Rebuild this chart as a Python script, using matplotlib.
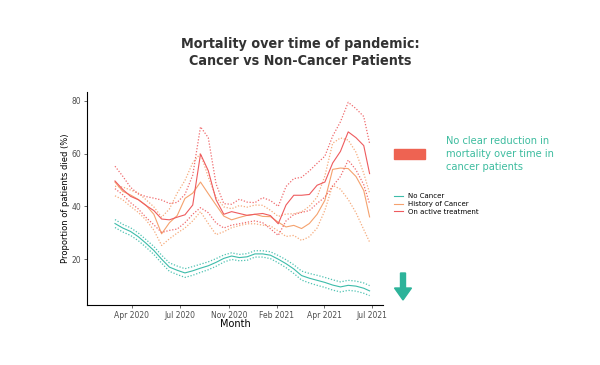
import matplotlib
matplotlib.use("Agg")
import matplotlib.pyplot as plt
from matplotlib.patches import FancyArrow, Rectangle
from matplotlib.lines import Line2D

# weeks since start of series (2-week steps)
weeks = [0, 2, 4, 6, 8, 10, 12, 14, 16, 18, 20, 22, 24, 26, 28, 30, 32,
         34, 36, 38, 40, 42, 44, 46, 48, 50, 52, 54, 56, 58, 60, 62, 64, 65.5]

no_cancer = [33.5, 31.8, 30.5, 28.5, 26.0, 23.3, 20.0, 17.0, 15.8, 14.8, 15.6, 16.6,
             17.5, 18.8, 20.3, 21.2, 20.6, 20.9, 22.0, 22.0, 21.5, 20.0, 18.3, 16.3,
             13.8, 12.8, 12.0, 11.2, 10.2, 9.5, 10.1, 9.8, 9.0, 8.0]
no_cancer_hi = [35.0, 33.2, 31.9, 29.9, 27.4, 24.8, 21.5, 18.6, 17.4, 16.4, 17.2, 18.1,
                19.0, 20.2, 21.6, 22.4, 21.8, 22.1, 23.2, 23.2, 22.8, 21.4, 19.8, 17.9,
                15.5, 14.6, 13.9, 13.1, 12.2, 11.4, 12.0, 11.7, 11.0, 10.0]
no_cancer_lo = [32.0, 30.3, 29.0, 27.0, 24.5, 21.8, 18.5, 15.4, 14.2, 13.1, 13.9, 15.0,
                16.0, 17.3, 18.9, 19.9, 19.4, 19.6, 20.8, 20.8, 20.2, 18.6, 16.8, 14.6,
                12.1, 11.0, 10.1, 9.3, 8.3, 7.6, 8.2, 7.9, 7.1, 6.2]

history = [49.2, 45.7, 44.3, 42.6, 40.4, 37.0, 29.6, 33.8, 36.5, 43.0, 45.0, 49.2,
           44.8, 40.5, 36.3, 34.9, 35.8, 36.6, 37.0, 36.2, 36.1, 34.0, 32.2, 32.8,
           31.6, 33.5, 37.0, 42.3, 54.0, 54.5, 54.3, 51.3, 46.0, 36.0]
history_hi = [47.6, 47.3, 46.2, 45.0, 42.5, 39.8, 35.9, 39.0, 45.0, 49.8, 56.5, 60.0,
              51.1, 43.5, 39.8, 39.1, 40.3, 39.7, 40.5, 40.4, 38.5, 36.2, 37.1, 37.2,
              37.9, 40.0, 43.5, 51.5, 63.9, 65.9, 65.1, 60.5, 52.5, 45.0]
history_lo = [44.0, 42.5, 40.0, 37.7, 34.8, 31.0, 25.2, 27.7, 29.9, 31.8, 34.5, 38.0,
              33.5, 29.3, 30.4, 31.9, 32.7, 33.4, 33.4, 32.9, 32.6, 30.7, 28.6, 29.0,
              27.1, 28.5, 31.8, 38.5, 48.0, 46.5, 42.6, 37.6, 31.2, 26.5]

active = [49.6, 46.4, 43.8, 42.5, 40.3, 38.4, 35.2, 34.9, 35.9, 36.8, 40.5, 59.8,
          53.5, 42.5, 37.0, 38.0, 37.3, 36.6, 37.0, 37.3, 36.5, 33.4, 40.5, 44.2,
          44.2, 44.5, 48.0, 49.2, 56.4, 60.8, 68.2, 66.0, 63.0, 52.4]
active_hi = [55.2, 51.4, 47.2, 44.7, 43.7, 43.1, 42.4, 41.1, 41.5, 44.5, 51.8, 70.1,
             66.0, 48.5, 41.0, 40.8, 42.7, 41.6, 41.4, 43.3, 42.2, 40.0, 47.5, 50.5,
             51.0, 53.4, 56.3, 59.0, 66.6, 72.0, 79.4, 77.0, 74.0, 63.8]
active_lo = [46.7, 44.4, 41.4, 39.0, 35.8, 33.0, 30.1, 30.9, 31.4, 33.8, 37.0, 39.5,
             37.6, 33.7, 31.8, 32.9, 33.4, 34.0, 34.5, 33.8, 31.5, 29.0, 34.5, 36.9,
             37.7, 38.4, 41.1, 43.5, 47.6, 51.3, 57.5, 53.8, 48.2, 41.0]

tick_weeks = [4.3, 16.7, 29.3, 41.6, 53.8, 66.2]
tick_labels = ["Apr 2020", "Jul 2020", "Nov 2020", "Feb 2021", "Apr 2021", "Jul 2021"]
y_ticks = [20, 40, 60, 80]

teal = "#3dbcaa"
orange = "#f5a26e"
red = "#ee5b5e"

fig = plt.figure(figsize=(6, 3.65), dpi=100)
ax = fig.add_axes([0.145, 0.164, 0.493, 0.584])

dot = (0, (1, 1.4))
for mid, hi, lo, col in [(history, history_hi, history_lo, orange),
                         (active, active_hi, active_lo, red),
                         (no_cancer, no_cancer_hi, no_cancer_lo, teal)]:
    ax.plot(weeks, hi, color=col, lw=0.9, ls=dot, alpha=0.9)
    ax.plot(weeks, lo, color=col, lw=0.9, ls=dot, alpha=0.9)
    ax.plot(weeks, mid, color=col, lw=0.8)

ax.set_xlim(-7.2, 68.9)
ax.set_ylim(2.6, 83.3)
ax.set_xticks(tick_weeks)
ax.set_xticklabels(tick_labels)
ax.set_yticks(y_ticks)
ax.tick_params(labelsize=5.5, labelcolor="#4d4d4d", length=2, width=0.5, color="#333333", pad=2)
for s in ["top", "right"]:
    ax.spines[s].set_visible(False)
for s in ["left", "bottom"]:
    ax.spines[s].set_linewidth(0.8)
ax.set_xlabel("Month", fontsize=7, labelpad=-0.5)
ax.set_ylabel("Proportion of patients died (%)", fontsize=6, labelpad=1.5)

fig.text(0.5, 0.856, "Mortality over time of pandemic:\nCancer vs Non-Cancer Patients",
         ha="center", va="center", fontsize=10.3, fontweight="bold", color="#333333",
         family="DejaVu Sans", fontstretch="condensed", linespacing=1.3)

fig.text(446 / 600, 1 - 154 / 365, "No clear reduction in\nmortality over time in\ncancer patients",
         ha="left", va="center", fontsize=7.9, color="#3dbc9f", family="DejaVu Sans",
         fontstretch="condensed", linespacing=1.4)

fig.patches.append(Rectangle((394 / 600, 1 - 159 / 365), 31 / 600, 10 / 365,
                             transform=fig.transFigure, color="#ee6352", zorder=3))

handles = [Line2D([], [], color=teal, lw=0.8),
           Line2D([], [], color=orange, lw=0.8),
           Line2D([], [], color=red, lw=0.8)]
fig.legend(handles, ["No Cancer", "History of Cancer", "On active treatment"],
           loc="center left", bbox_to_anchor=(388 / 600, 1 - 204 / 365), frameon=False,
           fontsize=5, handlelength=1.2, handletextpad=0.8, labelspacing=0.25)

fig.patches.append(FancyArrow(4.03, 0.92, 0, -0.27, width=0.05, head_width=0.17,
                              head_length=0.12, length_includes_head=True,
                              transform=fig.dpi_scale_trans, color="#2db39a"))

fig.savefig("out.png", dpi=100, facecolor="white")
